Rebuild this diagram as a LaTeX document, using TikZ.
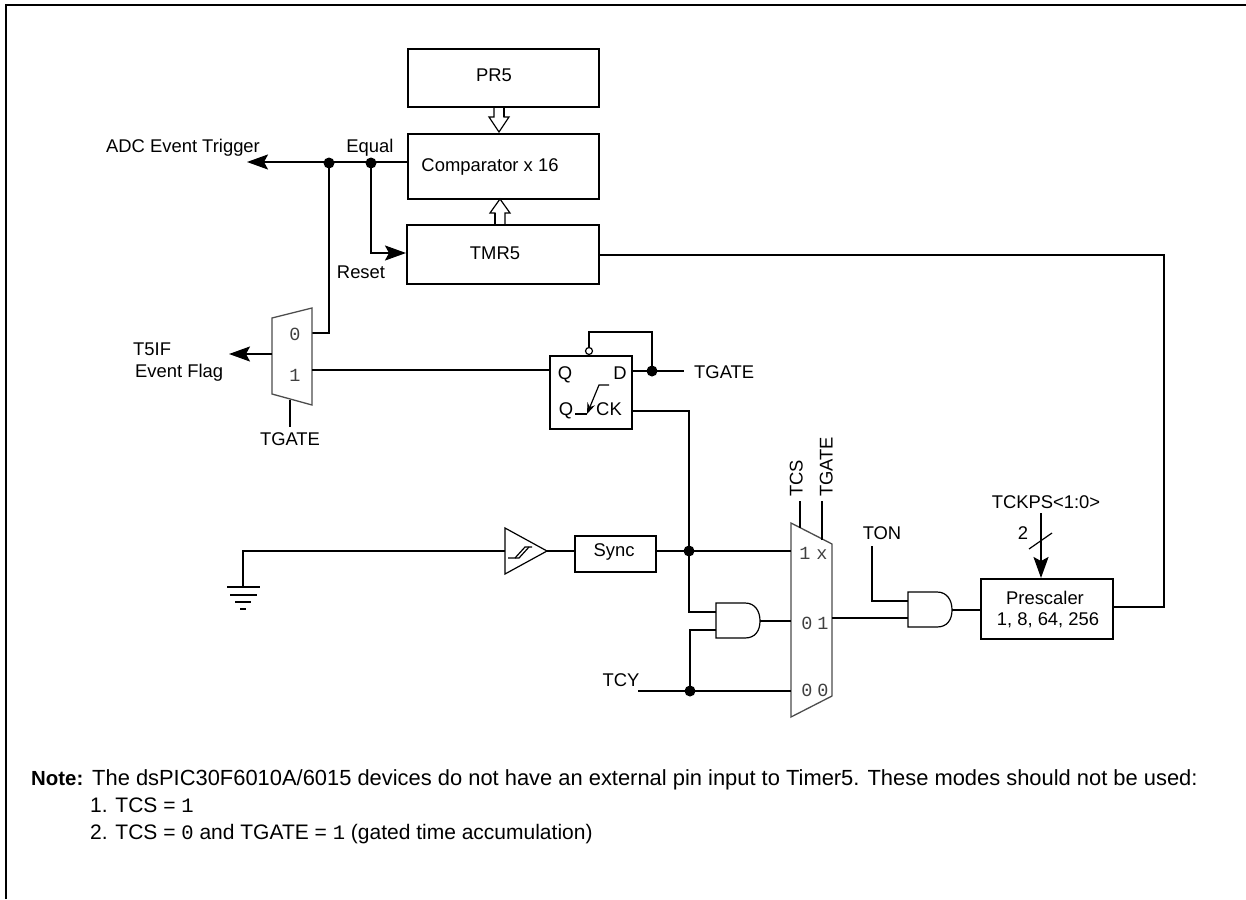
\documentclass[tikz,border=0pt]{standalone}
\usepackage{fontspec}
\setmainfont{Liberation Sans}
\setmonofont{Liberation Mono}
\usetikzlibrary{arrows.meta}
\newcommand{\digit}[1]{{\ttfamily\fontsize{20.5}{24}\selectfont #1}}
\tikzset{
  box/.style={draw, line width=2pt, anchor=north west, inner sep=0pt, align=center},
  txt/.style={inner sep=0pt, text height=13pt, text depth=0pt, font=\fontsize{18.4}{20}\selectfont},
  notetxt/.style={inner sep=0pt, text height=15pt, text depth=0pt, anchor=west, font=\fontsize{21.9}{24}\selectfont},
  bit/.style={inner sep=0pt, text height=12pt, text depth=0pt, text=black!75, font=\fontsize{18.5}{20}\ttfamily},
  dot/.style={circle, fill=black, inner sep=0pt, minimum size=11pt},
  wire/.style={line width=2pt},
  flow/.style={line width=2pt, -{Stealth[length=21pt, width=15pt, inset=4pt]}},
  thinline/.style={line width=1.2pt},
  muxline/.style={line width=1.3pt, draw=black!70},
  andgate/.pic={
    \draw[thinline] (0,0) -- (29,0) .. controls (39,0) and (44,8) .. (44,18)
      .. controls (44,28) and (39,35) .. (29,35) -- (0,35) -- cycle;
    \coordinate (-ina) at (0,9);
    \coordinate (-inb) at (0,27);
    \coordinate (-out) at (44,18);
  }
}
\begin{document}
\begin{tikzpicture}[x=1pt, y=-1pt, >=stealth]
  \useasboundingbox (0,0) rectangle (1246,899);

  \draw[line width=2pt] (6,899) -- (6,5) -- (1246,5);

  \node[box, minimum width=191pt, minimum height=58pt] (prbox) at (407,48) {};
  \node[box, minimum width=191pt, minimum height=65pt] (cmpbox) at (407,133) {};
  \node[box, minimum width=192pt, minimum height=59pt] (tmrbox) at (406,224) {};
  \node[box, minimum width=82pt, minimum height=73pt] (ffbox) at (549,355) {};
  \node[box, minimum width=81pt, minimum height=36pt] (syncbox) at (574,535) {};
  \node[box, minimum width=132pt, minimum height=60pt] (prebox) at (980,578) {};

  \node[txt] (prtxt) at (494,75) {PR5};
  \node[txt] (cmptxt) at (490,165) {Comparator x 16};
  \node[txt] (tmrtxt) at (495,253) {TMR5};
  \node[txt] (synctxt) at (614,550) {Sync};
  \node[txt] (pretxta) at (1045,598) {Prescaler};
  \node[txt] (pretxtb) at (1048,619) {1, 8, 64, 256};

  \coordinate (busa) at (499,106);
  \coordinate (busb) at (500,224);
  \draw[thinline] (busa) ++(-5,0) -- ++(0,11) -- ++(-5,0) -- ++(10,15) -- ++(10,-15) -- ++(-5,0) -- ++(0,-11);
  \draw[wire] (busa) ++(5,0) -- ++(0,11);
  \draw[thinline] (busb) ++(-5,0) -- ++(0,-11) -- ++(-5,0) -- ++(10,-14) -- ++(10,14) -- ++(-5,0) -- ++(0,11);
  \draw[wire] (busb) ++(-5,0) -- ++(0,-11);

  \node[dot] (eqdot) at (371,163) {};
  \node[dot] (adcdot) at (329,163) {};
  \coordinate (adcend) at (247,162);
  \draw[flow] (cmpbox.west |- adcend) -- (adcend);
  \draw[flow] (eqdot.center) |- (tmrbox.west |- 0,253);
  \draw[wire] (adcdot.center) |- (312,333);
  \node[txt] (adctxt) at (183,146) {ADC Event Trigger};
  \node[txt] (eqtxt) at (370,146) {Equal};
  \node[txt] (resettxt) at (361,272) {Reset};

  \draw[muxline] (272,318) -- (312,308) -- (312,405) -- (272,394) -- cycle;
  \node[bit] (muxazero) at (295,334) {0};
  \node[bit] (muxaone) at (295,375) {1};
  \coordinate (flagend) at (229,354);
  \draw[flow] (272,354) -- (flagend);
  \coordinate (muxasel) at (290,400);
  \node[txt] (muxatxt) at (290,439) {TGATE};
  \draw[wire] (muxasel) -- (290,427);
  \node[txt, anchor=west] (flagtxta) at (133,349) {T5IF};
  \node[txt, anchor=west] (flagtxtb) at (135,371) {Event Flag};

  \coordinate (qin) at (549,370);
  \draw[wire] (312,370) -- (qin);
  \node[txt] (qa) at (565,373) {Q};
  \node[txt] (da) at (620,373) {D};
  \node[txt] (qb) at (566,409) {Q};
  \node[txt] (ck) at (609,409) {CK};
  \draw[thinline, -{Stealth[length=11pt, width=8pt]}] (609,385) -- (599,385) -- (587,414);
  \draw[thinline] (587,414) -- (575,414);
  \node[circle, draw, line width=1.2pt, inner sep=0pt, minimum size=7pt] (qbub) at (589,351) {};
  \node[dot] (ddot) at (652,371) {};
  \draw[wire] (qbub.north) |- (652,332) -- (ddot.center);
  \coordinate (dend) at (684,371);
  \draw[wire] (ffbox.east |- dend) -- (dend);
  \node[txt, anchor=west] (dtxt) at (694,372) {TGATE};

  \coordinate (gndtop) at (243,551);
  \coordinate (gnd) at (243,587);
  \draw[wire] (505,551) -- (gndtop) -- (gnd);
  \draw[wire] (gnd) ++(-16,0) -- ++(33,0);
  \draw[wire] (gnd) ++(-13,8) -- ++(27,0);
  \draw[wire] (gnd) ++(-8,15) -- ++(16,0);
  \draw[wire] (gnd) ++(-3,22) -- ++(6,0);

  \draw[thinline] (505,528) -- (547,551) coordinate (buftip) -- (505,574) -- cycle;
  \draw[thinline] (508,558) -- (515,558) -- (525,547) -- (532,547);
  \draw[thinline] (515,558) -- (519,558) -- (529,547);
  \draw[wire] (buftip) -- (syncbox.west |- buftip);

  \node[dot] (syncdot) at (689,551) {};
  \draw[wire] (syncbox.east |- syncdot) -- (syncdot.center);
  \draw[wire] (ffbox.east |- 0,411) -| (syncdot.center);

  \draw[muxline] (791,523) -- (832,544) -- (832,696) -- (791,717) -- cycle;
  \coordinate (muxbin) at (791,551);
  \draw[wire] (syncdot.center) -- (muxbin);
  \node[bit] (bita) at (805,553) {1};
  \node[bit] (bitb) at (822,553) {x};
  \node[bit] (bitc) at (807,623) {0};
  \node[bit] (bitd) at (823,623) {1};
  \node[bit] (bite) at (807,690) {0};
  \node[bit] (bitf) at (823,690) {0};

  \coordinate (tcsbot) at (800,528);
  \coordinate (gatebot) at (822,540);
  \draw[wire] (tcsbot) -- (800,501);
  \draw[wire] (gatebot) -- (822,501);
  \node[txt, rotate=90, anchor=west] (tcstxt) at (796,497) {TCS};
  \node[txt, rotate=90, anchor=west] (gatetxt) at (826,497) {TGATE};

  \pic (anda) at (716,603) {andgate};
  \pic (andb) at (908,592) {andgate};
  \draw[wire] (syncdot.center) |- (anda-ina);
  \draw[wire] (anda-out) -- (791,621);

  \node[dot] (tcydot) at (690,691) {};
  \coordinate (tcyend) at (638,691);
  \draw[wire] (tcyend) -- (791,691);
  \draw[wire] (tcydot.center) |- (anda-inb);
  \node[txt] (tcytxt) at (621,680) {TCY};

  \draw[wire] (832,618) -- (908,618);
  \coordinate (tonend) at (872,546);
  \draw[wire] (tonend) |- (andb-ina);
  \node[txt] (tontxt) at (882,533) {TON};
  \draw[wire] (andb-out) -- (prebox.west |- andb-out);

  \coordinate (ckpsend) at (1041,513);
  \draw[flow] (ckpsend) -- (1041,578);
  \draw[thinline] (1029,549) -- (1052,533);
  \node[txt] (ckpstxt) at (1046,502) {TCKPS<1:0>};
  \node[txt] (ckpsnum) at (1023,533) {2};

  \coordinate (loop) at (1164,607);
  \draw[wire] (prebox.east |- loop) -- (loop) |- (tmrbox.east |- 0,255);

  \node[notetxt, font=\fontsize{20.4}{24}\selectfont\bfseries] (notehead) at (31,778) {Note:};
  \node[notetxt] (notebody) at (92,778) {The dsPIC30F6010A/6015 devices do not have an external pin input to Timer5. These modes should not be used:};
  \node[notetxt, font=\fontsize{21}{24}\selectfont] (notea) at (90,805) {1. TCS = \digit{1}};
  \node[notetxt, font=\fontsize{21}{24}\selectfont] (noteb) at (90,832) {2. TCS = \digit{0} and TGATE = \digit{1} (gated time accumulation)};
\end{tikzpicture}
\end{document}
